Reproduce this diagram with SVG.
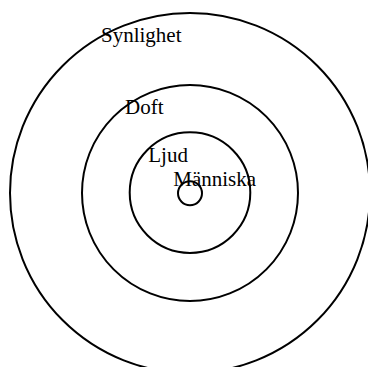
<svg xmlns="http://www.w3.org/2000/svg" width="368" height="367" viewBox="0 0 368 367">
<style>
.ring{fill:none;stroke:#000;stroke-width:2}
.lbl{font-family:"Liberation Serif","Times New Roman",serif;font-size:21px;fill:#000}
</style>
<rect width="368" height="367" fill="#fff"/>
<g id="synlighet"><circle class="ring" cx="190" cy="193" r="180"/><text class="lbl" x="101" y="42">Synlighet</text></g>
<g id="doft"><circle class="ring" cx="190" cy="193" r="108"/><text class="lbl" x="125" y="114">Doft</text></g>
<g id="ljud"><circle class="ring" cx="190" cy="192.6" r="60.3"/><text class="lbl" x="148.3" y="161.5">Ljud</text></g>
<g id="manniska"><circle class="ring" cx="190" cy="193.3" r="12"/><text class="lbl" x="173.3" y="186">Människa</text></g>
<g id="connectors"/>
</svg>
